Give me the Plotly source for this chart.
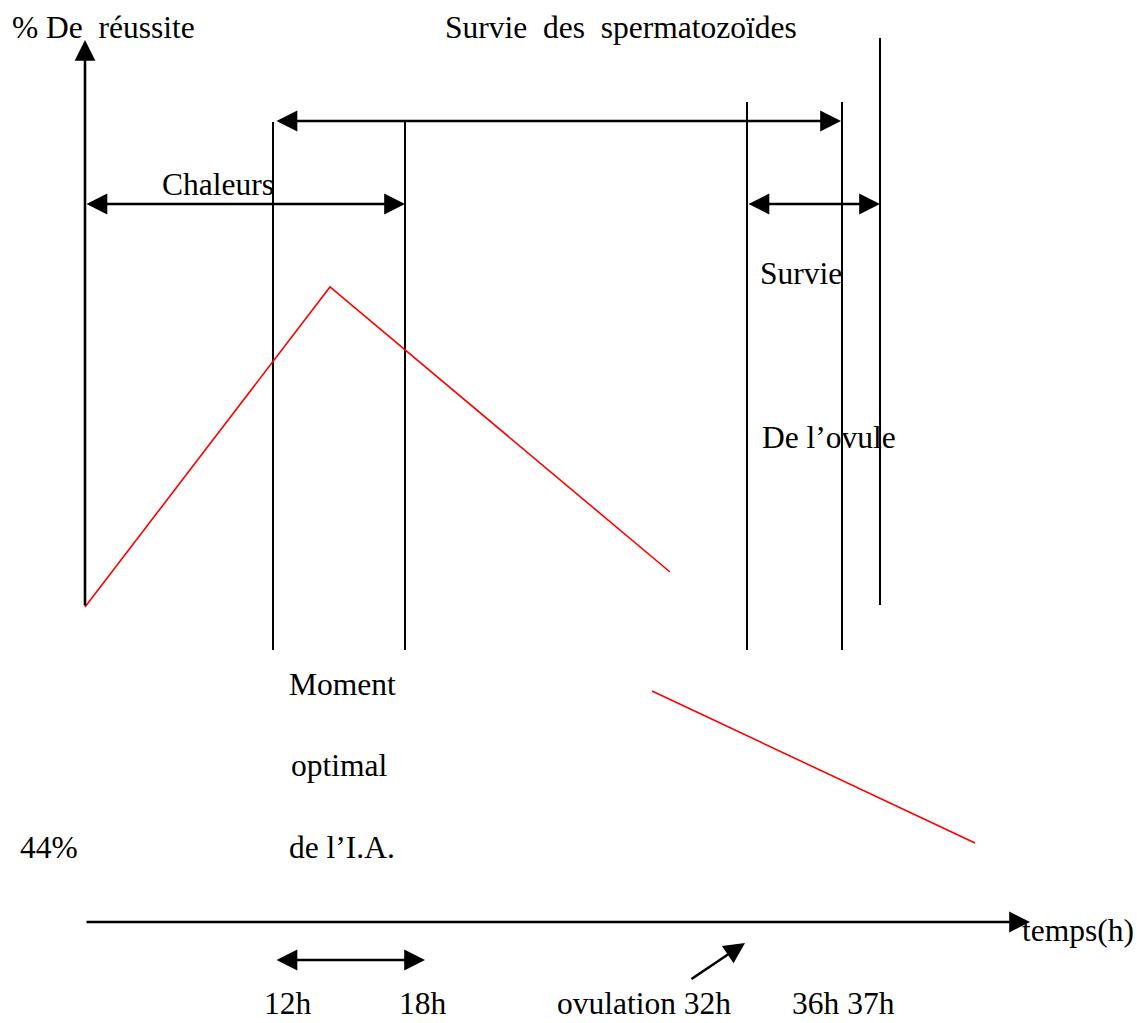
import plotly.graph_objects as go

# ---- schematic data (diagram coordinates, y grows downward) ----
# vertical reference lines
vline_x = [273, 405, 747, 842, 880]
vline_top = [122, 122, 102, 102, 38]
vline_bottom = [650, 650, 650, 650, 605]

# success-rate curve (two red segments)
curve1_x = [85, 330, 670]
curve1_y = [607, 287, 572]
curve2_x = [652, 975]
curve2_y = [691, 843]

# axes (tail -> tip)
yaxis_arrow = (85, 607, 85, 40)
xaxis_arrow = (85, 922, 1030, 922)

# double-headed interval arrows: (x_start, x_end, y)
intervals = [
    (275, 841, 121),   # survie des spermatozoïdes
    (85, 405, 204),    # chaleurs
    (747, 880, 204),   # survie de l'ovule
    (275, 425, 960),   # 12h - 18h
]
# ovulation pointer (tail -> tip)
ovulation_arrow = (690, 980, 745, 943)

# text labels: (text, x_left, y_center)
labels = [
    ("% De  réussite", 10, 27),
    ("Survie  des  spermatozoïdes", 443, 27),
    ("Chaleurs", 160, 184),
    ("Survie", 758, 273),
    ("De l\u2019ovule", 760, 437),
    ("Moment", 287, 684),
    ("optimal", 289, 765),
    ("de l\u2019I.A.", 287, 847),
    ("44%", 18, 847),
    ("temps(h)", 1020, 930),
    ("12h", 262, 1003),
    ("18h", 397, 1003),
    ("ovulation 32h", 555, 1003),
    ("36h 37h", 790, 1003),
]

FONT = dict(family="Liberation Serif, Times New Roman, serif", size=31.5, color="black")

fig = go.Figure()

# vertical lines
vx, vy = [], []
for x, t, b in zip(vline_x, vline_top, vline_bottom):
    vx += [x, x, None]
    vy += [t, b, None]
fig.add_trace(go.Scatter(x=vx, y=vy, mode="lines",
                         line=dict(color="black", width=2), hoverinfo="skip"))

# red curve
fig.add_trace(go.Scatter(x=curve1_x, y=curve1_y, mode="lines",
                         line=dict(color="#ff0000", width=1.6), hoverinfo="skip"))
fig.add_trace(go.Scatter(x=curve2_x, y=curve2_y, mode="lines",
                         line=dict(color="#ff0000", width=1.6), hoverinfo="skip"))

annotations = []

def arrow(tx, ty, hx, hy, both=False, width=2.6):
    annotations.append(dict(
        x=hx, y=hy, ax=tx, ay=ty, xref="x", yref="y", axref="x", ayref="y",
        showarrow=True, arrowhead=2, startarrowhead=2, arrowsize=1.6, startarrowsize=1.6,
        arrowwidth=width, arrowcolor="black",
        arrowside="end+start" if both else "end", text=""))

arrow(*yaxis_arrow)
arrow(*xaxis_arrow)
for x0, x1, y in intervals:
    arrow(x0, y, x1, y, both=True)
arrow(*ovulation_arrow)

for txt, x, y in labels:
    annotations.append(dict(text=txt, x=x, y=y, xref="x", yref="y",
                            xanchor="left", yanchor="middle", showarrow=False,
                            font=FONT))

fig.update_layout(
    width=1137, height=1023, autosize=False,
    margin=dict(l=0, r=0, t=0, b=0),
    paper_bgcolor="white", plot_bgcolor="white",
    showlegend=False,
    xaxis=dict(range=[0, 1137], visible=False, fixedrange=True),
    yaxis=dict(range=[1023, 0], visible=False, fixedrange=True),
    annotations=annotations,
)

fig.write_html("out.html", config={"displayModeBar": False},
               post_script="document.body.style.margin='0';")
